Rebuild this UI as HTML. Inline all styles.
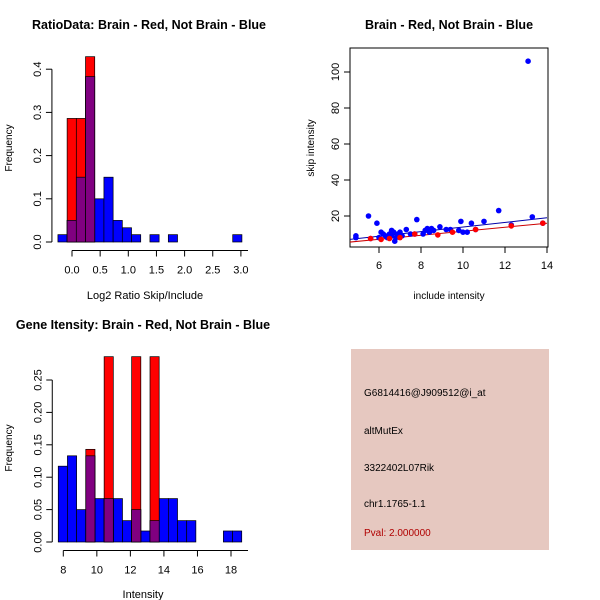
<!DOCTYPE html>
<html><head><meta charset="utf-8"><style>
body{margin:0;background:#fff}
svg{display:block;font-family:"Liberation Sans",sans-serif}
</style></head><body>
<svg id="c" width="600" height="600" viewBox="0 0 600 600"></svg>
<script>
// ---- data: ratio histogram
const ratioStart=-0.25, ratioWidth=0.1634;
const ratioNotBrain=[0.017,0.05,0.15,0.383,0.1,0.15,0.05,0.033,0.017,0,0.017,0,0.017,0,0,0,0,0,0,0.017];
const ratioBrain=[0,0.286,0.286,0.429];
const ratioXTicks=[0,0.5,1,1.5,2,2.5,3];
const ratioYTicks=[0,0.1,0.2,0.3,0.4];
// ---- data: intensity histogram
const intStart=7.7, intWidth=0.547;
const intNotBrain=[0.117,0.133,0.05,0.133,0.067,0.067,0.067,0.033,0.05,0.017,0.033,0.067,0.067,0.033,0.033,0,0,0,0.017,0.017];
const intBrain=[0,0,0,0.143,0,0.286,0,0,0.286,0,0.286];
const intXTicks=[8,10,12,14,16,18];
const intYTicks=[0,0.05,0.1,0.15,0.2,0.25];
// ---- data: scatter
const blueX=[4.9,4.9,5.5,5.6,5.9,6.0,6.1,6.2,6.3,6.4,6.5,6.6,6.6,6.7,6.75,6.8,6.9,7.0,7.1,7.3,7.5,7.8,7.7,8.1,8.2,8.3,8.4,8.5,8.6,8.9,9.2,9.4,9.8,9.9,10.0,10.2,10.4,10.6,11.0,11.7,12.3,13.1,13.3,13.8];
const blueY=[9,8,20,7.5,16,8,11,10,9,8,10,12,9,11,6,8,10,11,9,12.5,10,18,10,10,12,13,11,13,12,14,12.5,12.5,12,17,11,11,16,12.5,17,23,15,106,19.5,16];
const redX=[5.6,6.1,6.5,7.0,7.7,8.8,9.5,10.6,12.3,13.8];
const redY=[7.5,7,7.5,8,10,9.5,11,12.5,14.5,16];
const blueFit=[4.6,7,14,19];
const redFit=[4.6,5.5,14,16];
const scXTicks=[6,8,10,12,14];
const scYTicks=[20,40,60,80,100];

const NS="http://www.w3.org/2000/svg";
const svg=document.getElementById('c');
function el(tag,attrs,parent){const e=document.createElementNS(NS,tag);for(const k in attrs)e.setAttribute(k,attrs[k]);(parent||svg).appendChild(e);return e;}
function txt(s,x,y,o){const t=el('text',Object.assign({x:x,y:y,'font-size':11,'text-anchor':'middle',fill:'#000'},o||{}));t.textContent=s;return t;}

function hist(g,x,y,start,w,nb,br,xt,yt,xfmt,yfmt,axY,axXEnd){
  for(let i=0;i<nb.length;i++){if(nb[i]<=0)continue;
    const r=el('rect',{x:x(start+i*w),y:y(nb[i]),width:x(start+(i+1)*w)-x(start+i*w),height:y(0)-y(nb[i]),fill:'#0000ff',stroke:'#000','stroke-width':0.7},g);
    
    }
  for(let i=0;i<br.length;i++){if(br[i]<=0)continue;
    const r=el('rect',{x:x(start+i*w),y:y(br[i]),width:x(start+(i+1)*w)-x(start+i*w),height:y(0)-y(br[i]),fill:'#ff0000',stroke:'#000','stroke-width':0.7},g);
    
    
    const m=Math.min(br[i],nb[i]||0);
    if(m>0){const p=el('rect',{x:x(start+i*w),y:y(m),width:x(start+(i+1)*w)-x(start+i*w),height:y(0)-y(m),fill:'#800080',stroke:'#000','stroke-width':0.7},g);
      
      }
  }
  el('line',{x1:x(xt[0]),x2:axXEnd,y1:axY,y2:axY,stroke:'#000'},g);
  xt.forEach(v=>{el('line',{x1:x(v),x2:x(v),y1:axY,y2:axY+6,stroke:'#000'},g);
    const t=txt(xfmt(v),x(v),axY+23,{}) ;g.appendChild(t);
    });
  const ax=x(start)-6;
  el('line',{x1:ax,x2:ax,y1:y(yt[0]),y2:y(yt[yt.length-1]),stroke:'#000'},g);
  yt.forEach(v=>{el('line',{x1:ax,x2:ax-6,y1:y(v),y2:y(v),stroke:'#000'},g);
    const t=txt(yfmt(v),0,0,{transform:`translate(${ax-11},${y(v)}) rotate(-90)`});g.appendChild(t);
    });
}

const g1=el('g',{});
const x1=v=>72+v*56.3, y1=v=>242-v*432;
hist(g1,x1,y1,ratioStart,ratioWidth,ratioNotBrain,ratioBrain,ratioXTicks,ratioYTicks,v=>v.toFixed(1),v=>v.toFixed(1),250.5,248);
let t=txt('RatioData: Brain - Red, Not Brain - Blue',149,29,{'font-size':12.5,'font-weight':'bold'});
t=txt('Log2 Ratio Skip/Include',145,299);
t=txt('Frequency',0,0,{transform:'translate(12,148) rotate(-90)','font-size':10});

const g3=el('g',{});
const x3=v=>63.3+(v-8)*16.77, y3=v=>542-v*648;
hist(g3,x3,y3,intStart,intWidth,intNotBrain,intBrain,intXTicks,intYTicks,v=>String(v),v=>v.toFixed(2),550.5,248);
t=txt('Gene Itensity: Brain - Red, Not Brain - Blue',143,329,{'font-size':12.5,'font-weight':'bold'});
t=txt('Intensity',143,598);
t=txt('Frequency',0,0,{transform:'translate(12,448) rotate(-90)','font-size':10});

const g2=el('g',{});
const sx=v=>379+(v-6)*21, sy=v=>216-(v-20)*1.8;
const L=350,R=548,T=48,B=247;
const pb=el('rect',{x:L,y:T,width:R-L,height:B-T,fill:'none',stroke:'#000'},g2);
const cp=el('clipPath',{id:'cp'},g2);
el('rect',{x:L,y:T,width:R-L,height:B-T},cp);
const lb=el('line',{x1:sx(blueFit[0]),y1:sy(blueFit[1]),x2:sx(blueFit[2]),y2:sy(blueFit[3]),stroke:'#0000aa','clip-path':'url(#cp)'},g2);

const lr=el('line',{x1:sx(redFit[0]),y1:sy(redFit[1]),x2:sx(redFit[2]),y2:sy(redFit[3]),stroke:'#cc0000','clip-path':'url(#cp)'},g2);

blueX.forEach((v,i)=>{const c=el('circle',{cx:sx(v),cy:sy(blueY[i]),r:2.8,fill:'#0000ff'},g2);
  });
redX.forEach((v,i)=>{const c=el('circle',{cx:sx(v),cy:sy(redY[i]),r:2.8,fill:'#ff0000'},g2);
  });
scXTicks.forEach(v=>{el('line',{x1:sx(v),x2:sx(v),y1:B,y2:B+6,stroke:'#000'},g2);
  const t=txt(String(v),sx(v),B+22);g2.appendChild(t);});
scYTicks.forEach(v=>{el('line',{x1:L,x2:L-6,y1:sy(v),y2:sy(v),stroke:'#000'},g2);
  const t=txt(String(v),0,0,{transform:`translate(${L-11},${sy(v)}) rotate(-90)`});g2.appendChild(t);});
t=txt('Brain - Red, Not Brain - Blue',449,29,{'font-size':12.5,'font-weight':'bold'});
t=txt('include intensity',449,299,{'font-size':10});
t=txt('skip intensity',0,0,{transform:'translate(314,148) rotate(-90)','font-size':10});

const ip=el('rect',{x:351,y:349,width:198,height:201,fill:'#e6c8c0'});
const lines=[['G6814416@J909512@i_at',396,'#000','probe-id'],['altMutEx',434,'#000','event-type'],['3322402L07Rik',471,'#000','gene-name'],['chr1.1765-1.1',507,'#000','locus'],['Pval: 2.000000',536,'#b00000','p-value']];
lines.forEach(l=>{const t=txt(l[0],364,l[1],{'text-anchor':'start','font-size':10,fill:l[2]});
  });
</script>
</body></html>
